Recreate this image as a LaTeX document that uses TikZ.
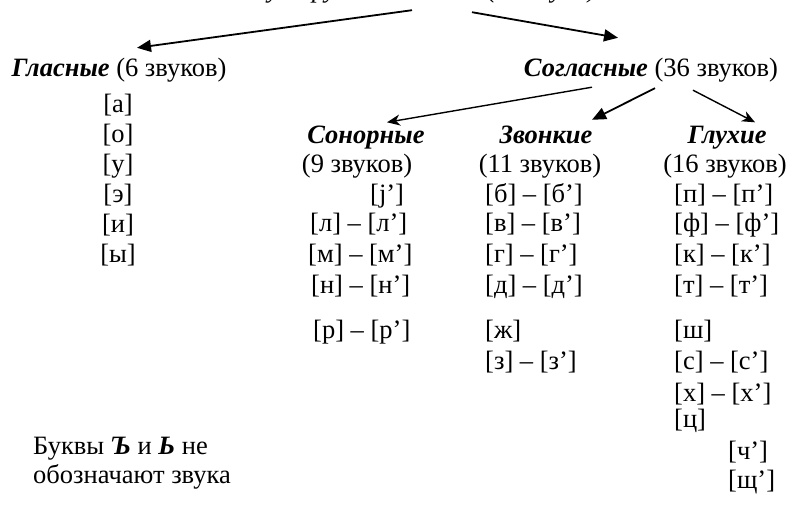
\documentclass[tikz,border=0pt]{standalone}
\usepackage{fontspec}
\setmainfont{Liberation Serif}
\usetikzlibrary{arrows.meta}
\begin{document}
\fontsize{26.5}{29}\selectfont
\begin{tikzpicture}[x=1pt,y=-1pt,
  txt/.style={inner sep=0pt,text height=19pt,text depth=6pt},
  head/.style={txt,anchor=center},
  snd/.style={txt,anchor=west},
  vow/.style={txt,anchor=center},
  arrF/.style={line width=1.8pt,-{Triangle[length=14pt,width=12pt]}},
  arrS/.style={line width=1.4pt,-{Stealth[length=13pt,width=11pt,inset=4pt]}}]
\def\dy{30};
\def\xs{310};
\def\xz{485};
\def\xg{674};

\useasboundingbox (0,0) rectangle (789,506);

\node[txt,anchor=base] (T) at (420,-2) {\itshape Звуки русского языка (42 звука)};

\node[head] (GL) at (119,70) {\textbf{\textit{Гласные}} (6 звуков)};
\node[head] (SG) at (651,70) {\textbf{\textit{Согласные}} (36 звуков)};
\draw[arrF] ([xshift=-8pt,yshift=-6pt]T.south) -- ([xshift=18pt,yshift=9.5pt]GL.north);
\draw[arrF] ([xshift=52pt,yshift=-8pt]T.south) -- ([xshift=-33pt,yshift=19.5pt]SG.north);

% vowels
\node[vow] (a) at (118,106) {[а]};
\node[vow] (o) at (118,106+\dy) {[о]};
\node[vow] (u) at (118,106+2*\dy) {[у]};
\node[vow] (e) at (118,106+3*\dy) {[э]};
\node[vow] (i) at (118,106+4*\dy) {[и]};
\node[vow] (y) at (118,106+5*\dy) {[ы]};

% consonant groups
\node[head] (SON) at (366,137) {\textbf{\textit{Сонорные}}};
\node[head] (SONn) at (357,166) {(9 звуков)};
\node[head] (ZV) at (546,137) {\textbf{\textit{Звонкие}}};
\node[head] (ZVn) at (540,166) {(11 звуков)};
\node[head] (GX) at (727,137) {\textbf{\textit{Глухие}}};
\node[head] (GXn) at (725,166) {(16 звуков)};
\draw[arrS] ([xshift=-59pt,yshift=-4.5pt]SG.south) -- ([xshift=21pt,yshift=2pt]SON.north);
\draw[arrF] ([xshift=4pt,yshift=-5.5pt]SG.south) -- ([xshift=46pt,yshift=4.5pt]ZV.north);
\draw[arrS] ([xshift=42pt,yshift=-7.5pt]SG.south) -- ([xshift=28pt,yshift=2pt]GX.north);

% sonorant
\node[snd] (j) at (370,196) {[j’]};
\node[snd] (l) at (\xs,225) {[л] – [л’]};
\node[snd] (m) at (\xs-2,256) {[м] – [м’]};
\node[snd] (n) at (\xs+1,287) {[н] – [н’]};
\node[snd] (r) at (\xs+3,332) {[р] – [р’]};

% voiced
\node[snd] (b) at (\xz,196) {[б] – [б’]};
\node[snd] (v) at (\xz,225) {[в] – [в’]};
\node[snd] (g) at (\xz,256) {[г] – [г’]};
\node[snd] (d) at (\xz,287) {[д] – [д’]};
\node[snd] (zh) at (\xz,332) {[ж]};
\node[snd] (z) at (\xz,363) {[з] – [з’]};

% voiceless
\node[snd] (p) at (\xg,196) {[п] – [п’]};
\node[snd] (f) at (\xg,225) {[ф] – [ф’]};
\node[snd] (k) at (\xg,256) {[к] – [к’]};
\node[snd] (t) at (\xg,287) {[т] – [т’]};
\node[snd] (sh) at (\xg,332) {[ш]};
\node[snd] (s) at (\xg,363) {[с] – [с’]};
\node[snd] (h) at (\xg,395) {[х] – [х’]};
\node[snd] (c) at (\xg,421) {[ц]};
\node[snd] (ch) at (728,453) {[ч’]};
\node[snd] (shch) at (728,482) {[щ’]};

\node[snd,align=left,text height=,text depth=] (note) at (33,463) {Буквы \textbf{\textit{Ъ}} и \textbf{\textit{Ь}} не\\обозначают звука};
\end{tikzpicture}
\end{document}
